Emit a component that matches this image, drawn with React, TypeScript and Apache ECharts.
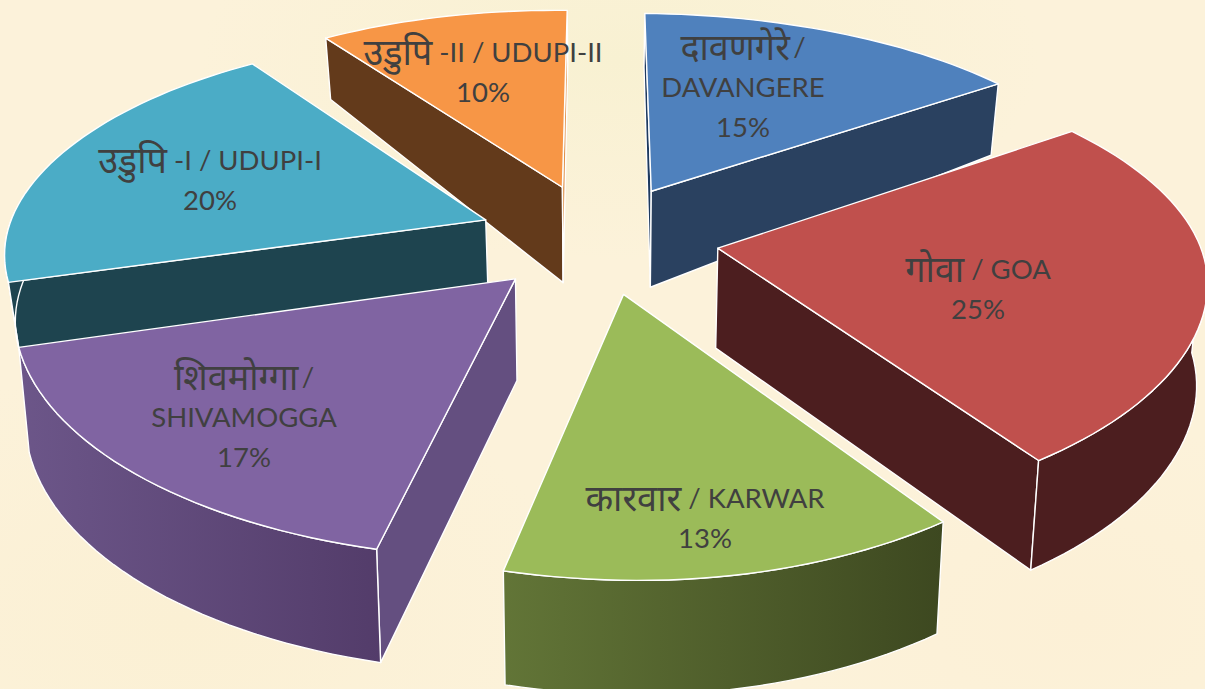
import React, { useEffect, useRef } from "react";
import * as echarts from "echarts";

const devanagariNames = ["दावणगेरे", "गोवा", "कारवार", "शिवमोग्गा", "उडुपि", "उडुपि"];
const nameSuffixes = ["", "", "", "", " -I", " -II"];
const latinNames = ["DAVANGERE", "GOA", "KARWAR", "SHIVAMOGGA", "UDUPI-I", "UDUPI-II"];
const shares = [15, 25, 13.4, 16.6, 20, 10];

const topColors = ["#4f81bd", "#c0504d", "#9bbb59", "#8064a2", "#4bacc6", "#f79646"];
const rimLeft = ["#2a4160", "#4c1e1f", "#627537", "#6c5689", "#1e444f", "#633a1b"];
const rimRight = ["#2a4160", "#4c1e1f", "#3d4820", "#533c6a", "#1e444f", "#633a1b"];
const startWall = ["#1e3a5f", "#4c1e1f", "#627537", "#644f80", "#1e444f", "#633a1b"];
const endWall = ["#2a4160", "#4c1e1f", "#627537", "#644f80", "#1e444f", "#e0934c"];
const depthScale = [1, 1, 1, 1, 0.66, 1];
// centre of each label block, and whether the name breaks onto two lines
const labelCentres = [[743, 86], [978, 288], [705, 517], [244, 416], [210, 179], [483, 71]];
const labelBreaks = [true, false, false, true, false, false];

const EXPLODE = 0.25;
const CX = 598, CY = 238, AY = 220;

function project(X: number, Y: number, bottom: boolean, depth = 1): number[] {
  const s = (1 + Math.tanh(3 * Y)) / 2; // 0 at the front of the plate, 1 at the back
  const qx = (X < 0 ? 0.155 : 0.1) * (1 - s) + (X < 0 ? 0.16 : 0.14) * s;
  const wx = 1 + qx * Y;
  const wy = 1 + 0.16 * Y;
  const ax = X < 0 ? 478 : 483;
  const tilt = 8 * (1 - s) + 4 * s;
  let x = CX + (ax * X) / wx;
  let y = CY - (AY * Y) / wy + tilt * X;
  if (bottom) {
    y += depth * (Y > 0.2 ? 97 - (Y - 0.2) * 42 : 97 - (Y - 0.2) * 12);
    x = 600 + (x - 600) * 0.982;
  }
  return [x, y];
}

const total = shares.reduce((a, b) => a + b, 0);
const slices = shares.map((v, i) => {
  const before = shares.slice(0, i).reduce((a, b) => a + b, 0);
  const a0 = (before / total) * 2 * Math.PI;
  const a1 = ((before + v) / total) * 2 * Math.PI;
  const mid = (a0 + a1) / 2;
  return { i, a0, a1, ox: EXPLODE * Math.sin(mid), oy: EXPLODE * Math.cos(mid) };
});
// painter's order: the slice whose apex is farthest back is drawn first
const paintOrder = [...slices].sort((p, q) => q.oy - p.oy);

function renderSlice(params: any) {
  const s = paintOrder[params.dataIndex];
  const i = s.i;
  const d = depthScale[i];
  const apexTop = project(s.ox, s.oy, false);
  const apexBot = project(s.ox, s.oy, true, d);
  const arcT: number[][] = [];
  const rimT: number[][] = [];
  const rimB: number[][] = [];
  const n = Math.ceil((s.a1 - s.a0) / 0.03);
  for (let k = 0; k <= n; k++) {
    const a = s.a0 + ((s.a1 - s.a0) * k) / n;
    const X = s.ox + Math.sin(a), Y = s.oy + Math.cos(a);
    arcT.push(project(X, Y, false));
    if (Math.cos(a) < 0.02) {
      rimT.push(project(X, Y, false));
      rimB.push(project(X, Y, true, d));
    }
  }
  const edge = { stroke: "#ffffff", lineWidth: 1.4, lineJoin: "round" };
  const rimFill = new echarts.graphic.LinearGradient(0, 0, 1, 0, [
    { offset: 0, color: rimLeft[i] },
    { offset: 1, color: rimRight[i] },
  ]);
  const poly = (points: number[][], fill: any) => ({
    type: "polygon",
    shape: { points },
    style: { fill, ...edge },
  });
  const children: any[] = [];
  const first = project(s.ox + Math.sin(s.a0), s.oy + Math.cos(s.a0), true, d);
  const last = project(s.ox + Math.sin(s.a1), s.oy + Math.cos(s.a1), true, d);
  if (Math.sin(s.a0) < 0.01) children.push(poly([apexTop, arcT[0], first, apexBot], startWall[i]));
  if (Math.sin(s.a1) > -0.01) children.push(poly([apexTop, arcT[n], last, apexBot], endWall[i]));
  if (rimT.length > 1) children.push(poly([...rimT, ...[...rimB].reverse()], rimFill));
  children.push(poly([apexTop, ...arcT], topColors[i]));
  return { type: "group", children };
}

function renderLabel(params: any) {
  const i = params.dataIndex;
  const [x, y] = labelCentres[i];
  const pct = Math.round(shares[i]) + "%";
  const head = labelBreaks[i]
    ? `{d|${devanagariNames[i]}} {l|/}\n{l|${latinNames[i]}}`
    : `{d|${devanagariNames[i]}}{l|${nameSuffixes[i]} / ${latinNames[i]}}`;
  return {
    type: "text",
    z2: 100,
    x,
    y,
    style: {
      text: `${head}\n{l|${pct}}`,
      align: "center",
      verticalAlign: "middle",
      rich: {
        d: { fontFamily: "Noto Sans, Lato, sans-serif", fontSize: 36, fill: "#404040", lineHeight: 40 },
        l: { fontFamily: "Lato, sans-serif", fontSize: 27.5, fill: "#404040", lineHeight: 40 },
      },
    },
  };
}

export default function App() {
  const ref = useRef<HTMLDivElement>(null);
  useEffect(() => {
    document.body.style.margin = "0";
    const chart = echarts.init(ref.current!, undefined, { renderer: "svg" });
    chart.setOption({
      animation: false,
      series: [
        {
          type: "custom",
          coordinateSystem: "none",
          silent: true,
          z: 1,
          data: paintOrder.map((s) => shares[s.i]),
          renderItem: renderSlice,
        },
        {
          type: "custom",
          coordinateSystem: "none",
          silent: true,
          z: 2,
          data: shares,
          renderItem: renderLabel,
        },
      ],
    });
    return () => chart.dispose();
  }, []);
  return (
    <div
      ref={ref}
      style={{
        width: 1205,
        height: 689,
        background:
          "radial-gradient(ellipse 420px 200px at 620px 60px, #f8f1d2 0%, rgba(248,241,210,0) 100%), radial-gradient(ellipse 400px 260px at 180px 620px, #fbf0d4 0%, rgba(251,240,212,0) 100%), radial-gradient(ellipse 300px 200px at 1080px 620px, #fcf0d6 0%, rgba(252,240,214,0) 100%), #fcf2da",
      }}
    />
  );
}
